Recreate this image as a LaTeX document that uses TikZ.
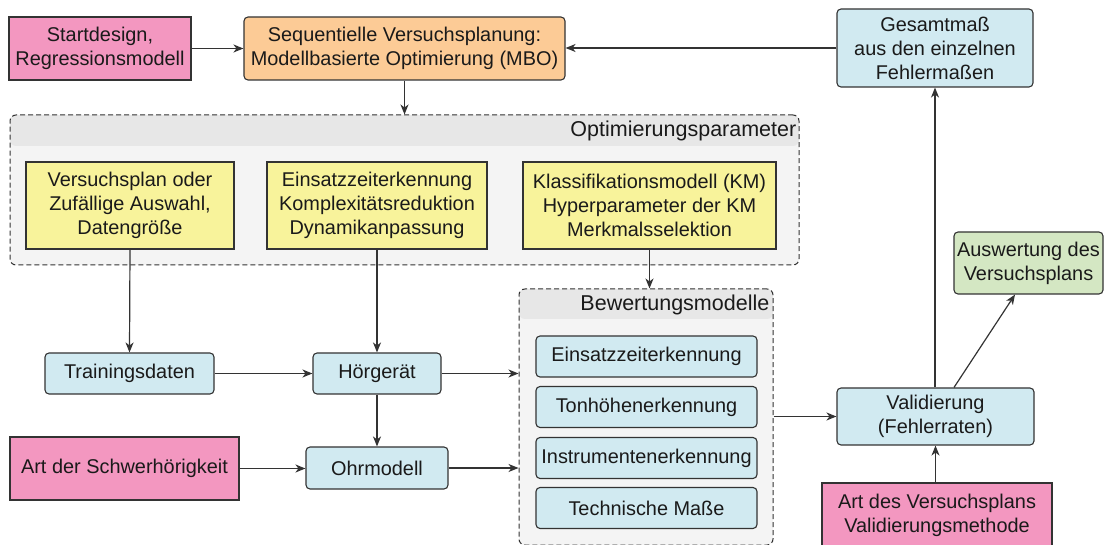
\documentclass[tikz,border=0pt]{standalone}
\usepackage{fontspec}
\setmainfont{Liberation Sans}
\usetikzlibrary{arrows.meta,calc}

\definecolor{pinkfill}{HTML}{F397C0}
\definecolor{orangefill}{HTML}{FCCB96}
\definecolor{bluefill}{HTML}{D1EAF1}
\definecolor{yellowfill}{HTML}{F8F39B}
\definecolor{greenfill}{HTML}{D4E7C3}
\definecolor{groupfill}{HTML}{F4F4F4}
\definecolor{groupband}{HTML}{E7E7E7}
\definecolor{edgegray}{HTML}{333333}
\definecolor{textdark}{HTML}{1A1A1A}

\tikzset{
  box/.style={draw=edgegray, line width=1.1pt, inner sep=0pt, align=center,
    text=textdark, font=\fontsize{19.9}{24}\selectfont},
  size/.style 2 args={minimum width=#1pt, minimum height=#2pt},
  inputbox/.style={box, fill=pinkfill},
  plannerbox/.style={box, fill=orangefill, rounded corners=4pt},
  modulebox/.style={box, fill=bluefill, rounded corners=4pt},
  resultbox/.style={box, fill=greenfill, rounded corners=4pt},
  parambox/.style={box, fill=yellowfill},
  group/.style={draw=edgegray, line width=1pt, dash pattern=on 5pt off 3pt,
    rounded corners=6pt, fill=groupfill, inner sep=0pt,
    path picture={\fill[groupband] (path picture bounding box.north west)
      rectangle ([yshift=-#1pt]path picture bounding box.north east);}},
  grouptitle/.style={inner sep=0pt, anchor=east, text=textdark,
    font=\fontsize{21.5}{26}\selectfont},
  flow/.style={draw=edgegray, line width=1.2pt,
    -{Stealth[length=10pt,width=8pt,inset=3pt]}},
}

\begin{document}
\begin{tikzpicture}[x=1pt,y=-1pt]
\clip (0,0) rectangle (1104,545);
\useasboundingbox (0,0) rectangle (1104,545);

% top row
\node[inputbox, size={182}{63}] (start) at (100,48.5) {Startdesign,\\Regressionsmodell};
\node[plannerbox, size={321}{63}] (mbo) at (404.5,48.5) {Sequentielle Versuchsplanung:\\Modellbasierte Optimierung (MBO)};
\node[modulebox, size={196}{78}] (gesamt) at (935,48) {Gesamtmaß\\aus den einzelnen\\Fehlermaßen};

% group of optimisation parameters
\node[group=31, size={789}{150}] (opt) at (404.5,190) {};
\node[grouptitle] (opttitle) at ([xshift=-3pt,yshift=-16pt]opt.north east) {Optimierungsparameter};
\node[parambox, size={208}{87}] (p1) at (130,205.5) {Versuchsplan oder\\Zufällige Auswahl,\\Datengröße};
\node[parambox, size={220}{87}] (p2) at (377,205.5) {Einsatzzeiterkennung\\Komplexitätsreduktion\\Dynamikanpassung};
\node[parambox, size={253}{87}] (p3) at (649.5,205.5) {Klassifikationsmodell (KM)\\Hyperparameter der KM\\Merkmalsselektion};

% processing chain
\node[modulebox, size={169}{41}] (train) at (129.5,373.5) {Trainingsdaten};
\node[modulebox, size={128}{41}] (hg) at (377,373.5) {Hörgerät};
\node[modulebox, size={142}{42}] (ohr) at (377,468) {Ohrmodell};
\node[inputbox, size={229}{63}] (art) at (124.5,468.5) {Art der Schwerhörigkeit};

% group of evaluation models
\node[group=30, size={254}{256}] (bew) at (646,417) {};
\node[grouptitle] (bewtitle) at ([xshift=-4pt,yshift=-16pt]bew.north east) {Bewertungsmodelle};
\node[modulebox, size={221}{41}] (m1) at (646.5,356.5) {Einsatzzeiterkennung};
\node[modulebox, size={221}{41}] (m2) at (646.5,407) {Tonhöhenerkennung};
\node[modulebox, size={221}{41}] (m3) at (646.5,458) {Instrumentenerkennung};
\node[modulebox, size={221}{41}] (m4) at (646.5,508) {Technische Maße};

% validation and results
\node[modulebox, size={197}{57}] (valid) at (935.5,416.5) {Validierung\\(Fehlerraten)};
\node[resultbox, size={149}{62}] (ausw) at (1028.5,263) {Auswertung des\\Versuchsplans};
\node[inputbox, size={230}{65}] (art2) at (937,515.5) {Art des Versuchsplans\\Validierungsmethode};

% connectors
\draw[flow] (start) -- (mbo);
\draw[flow] (gesamt.west) -- (gesamt.west -| mbo.east);
\draw[flow] (mbo.south) -- (mbo.south |- opt.north);
\draw[flow] (p1.south) -- (train.north);
\draw[flow] (p2.south) -- (hg.north);
\draw[flow] (p3.south) -- (p3.south |- bew.north);
\draw[flow] (train) -- (hg);
\draw[flow] (hg.east) -- (hg.east -| bew.west);
\draw[flow] (hg.south) -- (ohr.north);
\draw[flow] (art.east) -- (art.east -| ohr.west);
\draw[flow] (ohr.east) -- (ohr.east -| bew.west);
\draw[flow] (valid.west -| bew.east) -- (valid.west);
\draw[flow] (valid.north -| gesamt.south) -- (gesamt.south);
\draw[flow] ([xshift=18.5pt]valid.north) -- ([xshift=-13.5pt]ausw.south);
\draw[flow] (art2.north -| valid.south) -- (valid.south);
\end{tikzpicture}
\end{document}
